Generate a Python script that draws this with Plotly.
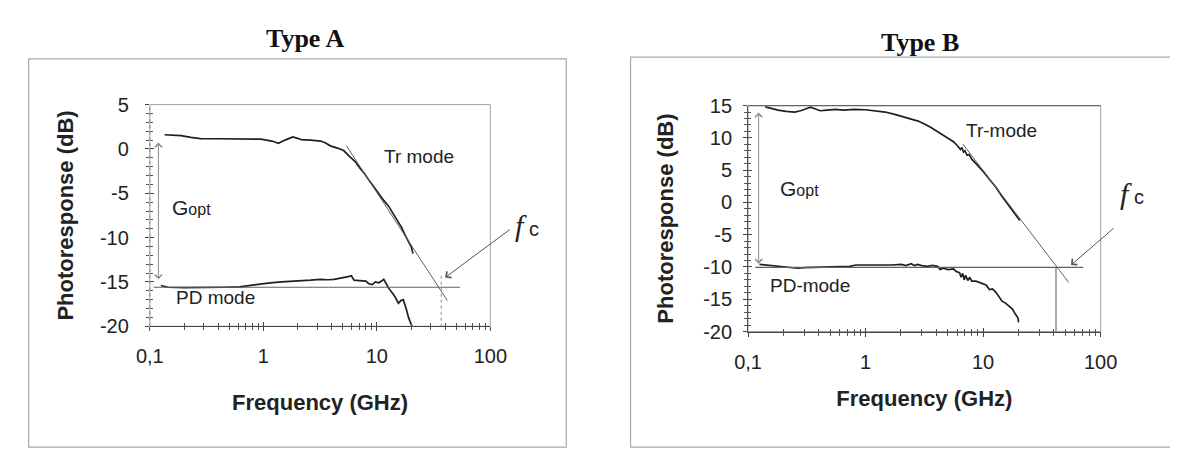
import math
import plotly.graph_objects as go

# ---------------- Type A data (frequency in GHz, response in dB) ----------------
a_tr_f = [0.135, 0.16, 0.188, 0.23, 0.28, 0.4, 0.55, 0.75, 0.95, 1.19, 1.36, 1.55, 1.82, 2.0, 2.15,
          2.6, 3.2, 3.5, 3.9, 4.5, 5.1, 5.8, 6.4, 7.1, 7.8, 8.6, 9.4, 10.4, 11.5, 12.7, 14.0, 15.5,
          16.6, 17.7, 19.0, 20.2, 20.8]
a_tr_db = [1.6, 1.55, 1.5, 1.3, 1.17, 1.15, 1.15, 1.14, 1.1, 0.89, 0.63, 1.0, 1.35, 1.2, 1.06,
           1.0, 0.89, 0.7, 0.35, 0.1, -0.18, -0.9, -1.4, -2.16, -2.8, -3.6, -4.3, -5.0, -5.8, -6.45,
           -7.3, -8.2, -8.9, -9.7, -10.4, -11.1, -11.8]
a_pd_f = [0.125, 0.145, 0.2, 0.3, 0.45, 0.62, 0.75, 0.91, 1.15, 1.45, 1.8, 2.15, 2.6, 3.2, 3.7,
          4.2, 4.7, 5.1, 5.6, 5.96, 6.3, 7.0, 8.0, 8.5, 9.1, 9.7, 10.4, 11.0, 11.5, 12.1, 12.7,
          13.6, 14.5, 15.5, 16.3, 17.1, 17.7, 18.3, 19.0, 19.6, 20.4]
a_pd_db = [-15.4, -15.6, -15.65, -15.65, -15.6, -15.55, -15.4, -15.2, -15.1, -15.0, -14.95, -14.9,
           -14.8, -14.7, -14.75, -14.7, -14.6, -14.5, -14.4, -14.3, -14.8, -14.85, -14.9, -15.2,
           -15.3, -15.0, -15.1, -14.9, -14.7, -15.2, -15.7, -16.2, -16.7, -17.4, -17.1, -17.0,
           -17.5, -18.2, -19.0, -19.5, -20.0]
a_fit_f = [5.4, 41.8]
a_fit_db = [0.35, -17.1]
a_level_f = [0.108, 54]
a_level_db = [-15.6, -15.6]
a_fc = 36.9
a_gopt_f, a_gopt_top, a_gopt_bot = 0.119, 0.9, -14.7

# ---------------- Type B data ----------------
b_tr_f = [0.14, 0.16, 0.18, 0.21, 0.25, 0.28, 0.31, 0.34, 0.37, 0.41, 0.47, 0.55, 0.65, 0.8, 1.0,
          1.2, 1.47, 1.8, 2.16, 2.5, 2.8, 3.2, 3.6, 4.3, 5.0, 5.6, 6.1, 6.4, 6.6, 6.8, 7.0, 7.3,
          7.6, 8.0, 8.7, 9.4, 10.0, 11.3, 12.8, 14.5, 16.6, 18.7, 20.5]
b_tr_db = [14.8, 14.5, 14.3, 14.1, 14.0, 14.2, 14.5, 14.75, 14.5, 14.2, 14.3, 14.4, 14.3, 14.4,
           14.35, 14.2, 14.0, 13.6, 13.2, 12.8, 12.6, 12.1, 11.6, 10.7, 10.0, 9.4, 8.7, 8.2, 8.5,
           7.8, 8.0, 7.3, 7.4, 6.7, 6.0, 5.4, 4.8, 3.6, 2.4, 0.9, -0.5, -1.8, -2.8]
b_pd_f = [0.125, 0.14, 0.17, 0.205, 0.24, 0.265, 0.3, 0.34, 0.45, 0.6, 0.73, 0.83, 1.0, 1.3, 1.67,
          2.0, 2.2, 2.45, 2.6, 2.78, 3.0, 3.37, 3.7, 4.1, 4.3, 4.6, 5.0, 5.6, 5.9, 6.3, 6.5, 6.7,
          6.9, 7.1, 7.4, 7.7, 8.0, 8.7, 9.5, 10.6, 11.3, 12.0, 12.8, 13.6, 14.5, 15.5, 16.5,
          17.7, 18.8, 19.8, 20.0]
b_pd_db = [-9.6, -9.7, -9.9, -10.07, -10.2, -10.2, -10.1, -10.07, -10.0, -9.95, -9.9, -9.7, -9.7,
           -9.8, -9.7, -9.6, -9.8, -9.5, -9.8, -9.6, -9.8, -9.9, -9.75, -9.9, -10.4, -10.2, -10.4,
           -10.3, -10.7, -10.9, -11.6, -11.0, -12.0, -11.3, -12.1, -11.6, -12.2, -12.2, -12.5,
           -12.8, -13.5, -13.4, -13.9, -14.6, -15.3, -15.6, -16.1, -16.5, -17.3, -17.9, -18.6]
b_fit_f = [6.75, 53.5]
b_fit_db = [9.0, -12.4]
b_level_f = [0.115, 71]
b_level_db = [-10.07, -10.07]
b_fc = 41.7
b_gopt_f, b_gopt_top, b_gopt_bot = 0.123, 14.16, -9.5

# ---------------- axis ticks ----------------
x_tickvals = [0.1, 1, 10, 100]
x_ticktext = ["0,1", "1", "10", "100"]
x_minor = [m * d for d in (0.1, 1, 10) for m in range(2, 10)]
ya_tickvals = [-20, -15, -10, -5, 0, 5]
ya_ticktext = ["-20", "-15", "-10", "-5", "0", "5"]
yb_tickvals = [-20, -15, -10, -5, 0, 5, 10, 15]
yb_ticktext = ["-20", "-15", "-10", "-5", "0", "5", "10", "15"]

W, H = 1178, 452
px = lambda v: v / W
py = lambda v: 1 - v / H

DATA = "#1f1f1f"
THIN = "#5c625f"
SANS = "Liberation Sans, Arial, sans-serif"
SERIF = "Liberation Serif, Times New Roman, serif"

fig = go.Figure()

def add_panel(xa, ya, tr_f, tr_db, pd_f, pd_db, fit_f, fit_db, lev_f, lev_db, fc, level, fc_dash, fc_col):
    fig.add_trace(go.Scatter(x=tr_f, y=tr_db, mode="lines", line=dict(color=DATA, width=1.7),
                             xaxis=xa, yaxis=ya, showlegend=False, name="Tr mode"))
    fig.add_trace(go.Scatter(x=pd_f, y=pd_db, mode="lines", line=dict(color=DATA, width=1.7),
                             xaxis=xa, yaxis=ya, showlegend=False, name="PD mode"))
    fig.add_trace(go.Scatter(x=fit_f, y=fit_db, mode="lines", line=dict(color=THIN, width=1),
                             xaxis=xa, yaxis=ya, showlegend=False, name="fit"))
    fig.add_trace(go.Scatter(x=lev_f, y=lev_db, mode="lines", line=dict(color=THIN, width=1.2),
                             xaxis=xa, yaxis=ya, showlegend=False, name="PD level"))
    fig.add_trace(go.Scatter(x=[fc, fc], y=[level, -20], mode="lines",
                             line=dict(color=fc_col, width=1, dash=fc_dash),
                             xaxis=xa, yaxis=ya, showlegend=False, name="fc"))

add_panel("x", "y", a_tr_f, a_tr_db, a_pd_f, a_pd_db, a_fit_f, a_fit_db, a_level_f, a_level_db,
          a_fc, -14.3, "dot", "#8a8a8a")
add_panel("x2", "y2", b_tr_f, b_tr_db, b_pd_f, b_pd_db, b_fit_f, b_fit_db, b_level_f, b_level_db,
          b_fc, b_level_db[0], "solid", "#555555")
# dummy traces for the overlay (inside-tick) axes
fig.add_trace(go.Scatter(x=[None], y=[None], xaxis="x3", yaxis="y3", showlegend=False, hoverinfo="skip"))
fig.add_trace(go.Scatter(x=[None], y=[None], xaxis="x4", yaxis="y4", showlegend=False, hoverinfo="skip"))

dom_ax = [px(131.3), px(481)]
dom_ay = [py(323), py(90)]
dom_bx = [px(745.7), px(1107.8)]
dom_by = [py(328.5), py(91)]

tickfont = dict(family=SANS, size=20, color="#222")
titlefont = dict(family=SANS, size=22, color="#222", weight="bold")

def xaxis_main(dom, anchor, standoff):
    return dict(type="log", range=[-1, 2], domain=dom, anchor=anchor,
                tickmode="array", tickvals=x_tickvals, ticktext=x_ticktext,
                ticks="outside", ticklen=4, tickwidth=1, tickcolor="#444",
                minor=dict(tickmode="array", tickvals=x_minor, ticks="outside", ticklen=3,
                           tickwidth=1, tickcolor="#555", showgrid=False),
                showline=True, linecolor="#444", linewidth=1.3, showgrid=False, zeroline=False,
                tickfont=tickfont, ticklabelstandoff=8,
                title=dict(text="Frequency (GHz)", font=titlefont, standoff=standoff))

def xaxis_over(over, anchor):
    return dict(type="log", range=[-1, 2], overlaying=over, anchor=anchor,
                tickmode="array", tickvals=x_tickvals, ticks="inside", ticklen=4, tickwidth=1,
                tickcolor="#444", showticklabels=False,
                minor=dict(tickmode="array", tickvals=x_minor, ticks="inside", ticklen=3,
                           tickwidth=1, tickcolor="#555", showgrid=False),
                showline=False, showgrid=False, zeroline=False)

def yaxis_main(dom, anchor, rng, tv, tt, showline, standoff, lso):
    return dict(range=rng, domain=dom, anchor=anchor, tickmode="array", tickvals=tv, ticktext=tt,
                ticks="outside", ticklen=4, tickwidth=1, tickcolor="#444",
                minor=dict(dtick=1, ticks="outside", ticklen=3, tickwidth=1, tickcolor="#555",
                           showgrid=False),
                showline=showline, linecolor="#555", linewidth=1, showgrid=False, zeroline=False,
                tickfont=tickfont, ticklabelstandoff=lso,
                title=dict(text="Photoresponse (dB)", font=titlefont, standoff=standoff))

def yaxis_over(over, anchor, rng, tv):
    return dict(range=rng, overlaying=over, anchor=anchor, tickmode="array", tickvals=tv,
                ticks="inside", ticklen=4, tickwidth=1, tickcolor="#444", showticklabels=False,
                minor=dict(dtick=1, ticks="inside", ticklen=3, tickwidth=1, tickcolor="#555",
                           showgrid=False),
                showline=False, showgrid=False, zeroline=False)

fig.update_layout(
    width=W, height=H, margin=dict(l=0, r=0, t=0, b=0),
    paper_bgcolor="white", plot_bgcolor="rgba(0,0,0,0)", showlegend=False,
    xaxis=xaxis_main(dom_ax, "y", 28),
    yaxis=yaxis_main(dom_ay, "x", [-20, 5], ya_tickvals, ya_ticktext, False, 20, 12),
    xaxis2=xaxis_main(dom_bx, "y2", 18),
    yaxis2=yaxis_main(dom_by, "x2", [-20, 15], yb_tickvals, yb_ticktext, True, 23, 7),
    xaxis3=xaxis_over("x", "y"),
    yaxis3=yaxis_over("y", "x", [-20, 5], ya_tickvals),
    xaxis4=xaxis_over("x2", "y2"),
    yaxis4=yaxis_over("y2", "x2", [-20, 15], yb_tickvals),
)

shapes = [
    # outer boxes
    dict(type="rect", xref="paper", yref="paper", x0=px(6.8), x1=px(559), y0=py(450), y1=py(42),
         line=dict(color="#a8a8a8", width=1.2), layer="below"),
    dict(type="rect", xref="paper", yref="paper", x0=px(625), x1=px(1190), y0=py(450), y1=py(40),
         line=dict(color="#a8a8a8", width=1.2), layer="below"),
    # plot frames
    dict(type="rect", xref="x domain", yref="y domain", x0=0, x1=1, y0=0, y1=1,
         line=dict(color="#a0a0a0", width=1), layer="below"),
    dict(type="line", xref="x domain", yref="y domain", x0=0, x1=0, y0=0, y1=1,
         line=dict(color="#8a8a8a", width=1, dash="dot")),
    dict(type="rect", xref="x2 domain", yref="y2 domain", x0=0, x1=1, y0=0, y1=1,
         line=dict(color="#a0a0a0", width=1), layer="below"),
    dict(type="line", xref="x2 domain", yref="y2 domain", x0=0, x1=1, y0=1, y1=1,
         line=dict(color="#666", width=1.2)),
]
fig.update_layout(shapes=shapes)

L = math.log10
ann = []
# panel titles
ann.append(dict(text="<b>Type A</b>", xref="paper", yref="paper", x=px(291), y=py(21),
                xanchor="center", yanchor="middle",
                showarrow=False, font=dict(family=SERIF, size=26, color="#111")))
ann.append(dict(text="<b>Type B</b>", xref="paper", yref="paper", x=px(922), y=py(25),
                xanchor="center", yanchor="middle",
                showarrow=False, font=dict(family=SERIF, size=26, color="#111")))

labfont = dict(family=SANS, size=19, color="#222")
gopt = "G<span style='font-size:16px'>opt</span>"
gfont = dict(family=SANS, size=21, color="#222")
ann += [
    dict(text="Tr mode", x=L(11.1), y=-0.8, xref="x", yref="y", xanchor="left", yanchor="middle",
         showarrow=False, font=labfont),
    dict(text=gopt, x=L(0.15), y=-6.6, xref="x", yref="y", xanchor="left", yanchor="middle",
         showarrow=False, font=gfont),
    dict(text="PD mode", x=L(0.162), y=-16.75, xref="x", yref="y", xanchor="left", yanchor="middle",
         showarrow=False, font=labfont),
    dict(text="Tr-mode", x=L(6.82), y=11.2, xref="x2", yref="y2", xanchor="left", yanchor="middle",
         showarrow=False, font=labfont),
    dict(text=gopt, x=L(0.18), y=2.1, xref="x2", yref="y2", xanchor="left", yanchor="middle",
         showarrow=False, font=gfont),
    dict(text="PD-mode", x=L(0.148), y=-12.9, xref="x2", yref="y2", xanchor="left", yanchor="middle",
         showarrow=False, font=labfont),
]
fc_txt = ("<span style='font-family:Liberation Serif;font-size:30px'><i>f</i></span>"
          "<span style='font-size:20px'> c</span>")
ann += [
    dict(text=fc_txt, xref="paper", yref="paper", x=px(519), y=py(217), xanchor="center",
         yanchor="middle", showarrow=False, font=dict(family=SANS, size=20, color="#222")),
    dict(text=fc_txt, xref="paper", yref="paper", x=px(1140), y=py(183), xanchor="center",
         yanchor="middle", showarrow=False, font=dict(family=SANS, size=20, color="#222")),
]
# Gopt double arrows
for xa, ya, f, top, bot in [("x", "y", a_gopt_f, a_gopt_top, a_gopt_bot),
                            ("x2", "y2", b_gopt_f, b_gopt_top, b_gopt_bot)]:
    ann.append(dict(text="", x=L(f), y=bot, ax=L(f), ay=top, xref=xa, yref=ya, axref=xa, ayref=ya,
                    showarrow=True, arrowside="end+start", arrowhead=4, startarrowhead=4,
                    arrowsize=1.4, startarrowsize=1.4, arrowwidth=1, arrowcolor="#8c8c8c"))
# fc pointer arrows
ann.append(dict(text="", x=L(40), y=-14.5, xref="x", yref="y", ax=66, ay=-49,
                showarrow=True, arrowhead=4, arrowsize=1.5, arrowwidth=1, arrowcolor="#555"))
ann.append(dict(text="", x=L(56), y=-9.7, xref="x2", yref="y2", ax=44, ay=-38,
                showarrow=True, arrowhead=4, arrowsize=1.5, arrowwidth=1, arrowcolor="#555"))
fig.update_layout(annotations=ann)

fig.write_html("out.html")
